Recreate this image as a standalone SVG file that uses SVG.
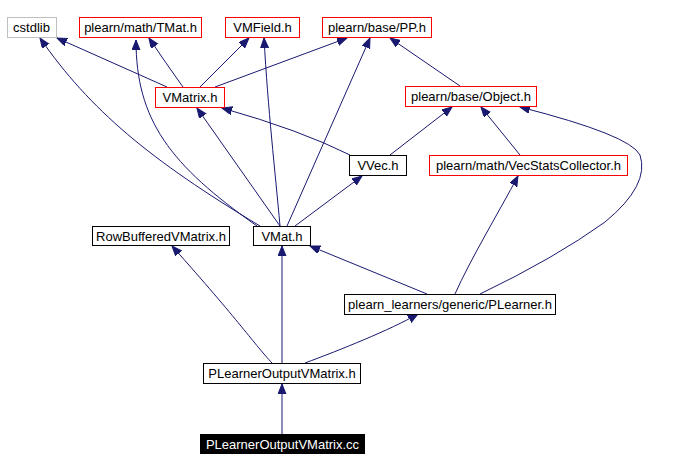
<svg xmlns="http://www.w3.org/2000/svg" width="682" height="470" viewBox="0 0 682 470">
<style>
.n rect{fill:#fff;stroke:#000;stroke-width:1}
.n.red rect{stroke:#ff0000}
.n.gray rect{stroke:#bfbfbf}
.n text{font-family:"Liberation Sans",Arial,sans-serif;font-size:13px;fill:#000;text-anchor:middle}
.n.inv rect{fill:#000}
.n.inv text{fill:#fff}
#edges path{fill:none;stroke:#191970;stroke-width:1;marker-end:url(#ah)}
</style>
<defs>
<marker id="ah" markerUnits="userSpaceOnUse" markerWidth="11" markerHeight="9" refX="10" refY="4" orient="auto">
<path d="M0,0 L10,4 L0,8 z" fill="#191970" stroke="#191970"/>
</marker>
</defs>
<rect width="682" height="470" fill="#fff"/>
<g id="edges">
<path d="M167,87 L57,38"/>
<path d="M183,87 Q165,62 149,38"/>
<path d="M200,87 L249,38"/>
<path d="M215,87 L347,38"/>
<path d="M260,226 C150,160 90,110 40,38"/>
<path d="M257,226 C170,165 136,120 136,40"/>
<path d="M280,226 L197,108"/>
<path d="M280,226 C275,170 268,110 264,38"/>
<path d="M287,226 L370,38"/>
<path d="M295,226 L362,176"/>
<path d="M350,155 Q300,130 222,108"/>
<path d="M390,155 L452,107"/>
<path d="M460,86 L390,38"/>
<path d="M520,155 L481,107"/>
<path d="M455,294 C470,260 500,210 518,176"/>
<path d="M480,294 Q555,258 605,222 Q650,185 640,155 Q630,135 520,107"/>
<path d="M427,294 L310,246"/>
<path d="M272,363 C255,345 240,322 172,246"/>
<path d="M282,363 L282,246"/>
<path d="M305,363 C340,350 390,330 418,314"/>
<path d="M282,434 L282,384"/>
</g>
<g id="cstdlib" class="n gray"><rect x="7.5" y="17.5" width="49" height="20"/><text x="31.5" y="32">cstdlib</text></g>
<g id="tmat" class="n red"><rect x="79.5" y="17.5" width="122" height="20"/><text x="140.5" y="32">plearn/math/TMat.h</text></g>
<g id="vmfield" class="n red"><rect x="225.5" y="17.5" width="74" height="20"/><text x="262.5" y="32">VMField.h</text></g>
<g id="pp" class="n red"><rect x="322.5" y="17.5" width="109" height="20"/><text x="377" y="32">plearn/base/PP.h</text></g>
<g id="vmatrix" class="n red"><rect x="155.5" y="87.5" width="69" height="20"/><text x="190" y="102">VMatrix.h</text></g>
<g id="object" class="n red"><rect x="405.5" y="86.5" width="131" height="20"/><text x="471" y="101">plearn/base/Object.h</text></g>
<g id="vvec" class="n"><rect x="349.5" y="155.5" width="57" height="20"/><text x="378" y="170">VVec.h</text></g>
<g id="vecstats" class="n red"><rect x="429.5" y="155.5" width="198" height="20"/><text x="528.5" y="170">plearn/math/VecStatsCollector.h</text></g>
<g id="rowbuffered" class="n"><rect x="92.5" y="226.5" width="137" height="19"/><text x="161" y="240.5">RowBufferedVMatrix.h</text></g>
<g id="vmat" class="n"><rect x="253.5" y="226.5" width="57" height="19"/><text x="282" y="240.5">VMat.h</text></g>
<g id="plearner" class="n"><rect x="344.5" y="294.5" width="211" height="20"/><text x="450" y="309">plearn_learners/generic/PLearner.h</text></g>
<g id="povm_h" class="n"><rect x="203.5" y="363.5" width="157" height="20"/><text x="282" y="378">PLearnerOutputVMatrix.h</text></g>
<g id="povm_cc" class="n inv"><rect x="200.5" y="434.5" width="164" height="19"/><text x="282.5" y="448.5">PLearnerOutputVMatrix.cc</text></g>
</svg>
